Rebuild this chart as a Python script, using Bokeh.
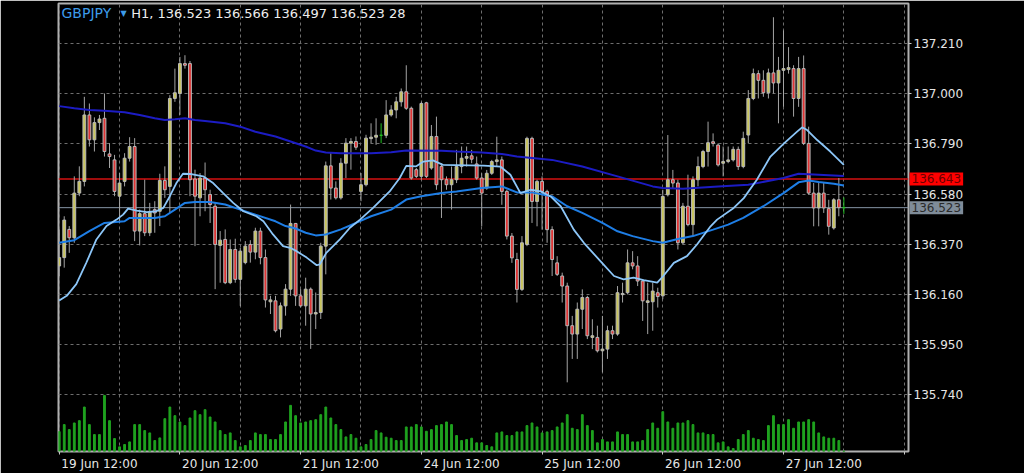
from bokeh.plotting import figure
from bokeh.models import (ColumnDataSource, Range1d, FixedTicker, Span, Label,
                          PrintfTickFormatter)
from bokeh.embed import file_html
from bokeh.resources import INLINE

# ---------------- data ----------------
symbol = "GBPJPY"
header = "H1, 136.523 136.566 136.497 136.523 28"

opens = [
136.279,136.314,136.432,136.397,136.584,136.633,136.911,136.807,136.879,136.897,
136.748,136.723,136.571,136.633,136.730,136.779,136.425,136.498,136.418,136.515,
136.508,136.637,136.612,136.980,137.001,137.126,137.126,136.643,136.564,136.647,
136.578,136.529,136.365,136.390,136.209,136.348,136.223,136.293,136.369,136.337,
136.425,136.314,136.129,136.133,136.015,136.112,136.182,136.457,136.154,136.112,
136.182,136.078,136.084,136.362,136.698,136.605,136.564,136.709,136.793,136.800,
136.591,136.619,136.812,136.818,136.826,136.826,136.911,136.932,136.966,137.008,
136.939,136.682,136.654,136.962,136.689,136.821,136.696,136.640,136.619,136.640,
136.695,136.730,136.740,136.706,136.647,136.605,136.667,136.716,136.723,136.591,
136.404,136.306,136.181,136.369,136.813,136.549,136.633,136.591,136.431,136.292,
136.237,136.195,136.029,135.994,136.098,136.147,135.980,135.980,135.924,135.931,
136.008,135.994,136.159,136.167,136.292,136.279,136.216,136.126,136.129,136.167,
136.154,136.577,136.640,136.626,136.376,136.529,136.452,136.640,136.695,136.758,
136.799,136.785,136.709,136.716,136.723,136.767,136.695,136.827,136.980,137.084,
137.056,137.004,137.087,137.045,137.098,137.101,137.105,136.980,137.105,136.792,
136.584,136.522,136.584,136.519,136.438,136.556,136.523]

highs = [
136.432,136.487,136.446,136.654,136.696,136.987,136.959,136.901,136.911,137.001,
136.793,136.744,136.668,136.751,136.818,136.814,136.515,136.640,136.543,136.550,
136.665,136.696,136.994,137.105,137.154,137.161,137.137,136.682,136.668,136.712,
136.598,136.543,136.425,136.432,136.390,136.393,136.355,136.383,136.387,136.439,
136.439,136.348,136.154,136.154,136.126,136.203,136.536,136.459,136.182,136.230,
136.189,136.168,136.376,136.716,136.751,136.633,136.730,136.814,136.814,136.821,
136.668,136.828,136.876,136.897,136.876,136.973,136.952,136.987,137.022,137.119,
136.946,136.689,136.966,136.966,136.869,136.904,136.709,136.654,136.695,136.765,
136.779,136.779,136.765,136.737,136.667,136.681,136.723,136.820,136.737,136.598,
136.417,136.334,136.404,136.820,136.820,136.640,136.654,136.598,136.445,136.320,
136.251,136.209,136.070,136.126,136.181,136.154,136.056,136.029,136.070,136.029,
136.029,136.195,136.209,136.348,136.341,136.320,136.223,136.209,136.209,136.188,
136.598,136.827,136.681,136.640,136.543,136.661,136.654,136.737,136.765,136.883,
136.834,136.792,136.779,136.779,136.779,136.779,136.841,137.015,137.105,137.098,
137.098,137.105,137.320,137.154,137.265,137.195,137.119,137.154,137.160,136.862,
136.626,136.626,136.626,136.556,136.563,136.647,136.566]

lows = [
136.237,136.272,136.334,136.376,136.571,136.612,136.779,136.758,136.848,136.737,
136.689,136.571,136.459,136.612,136.716,136.383,136.365,136.404,136.404,136.418,
136.446,136.564,136.501,136.966,136.911,137.105,136.571,136.362,136.487,136.508,
136.459,136.182,136.209,136.203,136.203,136.209,136.112,136.286,136.293,136.307,
136.286,136.105,136.078,136.001,135.980,136.071,136.154,136.112,136.105,136.029,
135.932,136.015,136.057,136.244,136.557,136.557,136.557,136.647,136.682,136.765,
136.550,136.612,136.793,136.786,136.793,136.814,136.904,136.897,136.946,136.932,
136.640,136.647,136.640,136.647,136.682,136.598,136.480,136.598,136.515,136.626,
136.667,136.695,136.709,136.640,136.445,136.598,136.660,136.695,136.535,136.390,
136.292,136.126,136.174,136.362,136.459,136.445,136.431,136.376,136.237,136.237,
136.126,135.792,135.890,135.890,136.015,135.973,135.931,135.917,135.834,135.890,
135.973,135.987,136.126,136.160,136.265,136.195,136.049,135.994,136.008,136.105,
136.140,136.570,136.605,136.348,136.369,136.445,136.404,136.612,136.688,136.695,
136.779,136.695,136.654,136.709,136.716,136.681,136.688,136.792,136.973,136.980,
136.987,136.980,137.001,136.876,136.945,137.084,136.904,136.945,136.785,136.577,
136.445,136.445,136.501,136.410,136.431,136.487,136.497]

closes = [
136.314,136.471,136.397,136.584,136.633,136.911,136.807,136.879,136.894,136.758,
136.737,136.591,136.626,136.730,136.779,136.425,136.498,136.418,136.504,136.501,
136.637,136.598,136.980,137.004,137.126,137.119,136.640,136.571,136.647,136.598,
136.536,136.369,136.387,136.209,136.348,136.223,136.341,136.362,136.337,136.425,
136.314,136.137,136.137,136.008,136.112,136.182,136.457,136.154,136.112,136.182,
136.078,136.084,136.362,136.698,136.605,136.564,136.709,136.793,136.800,136.776,
136.619,136.814,136.818,136.826,136.826,136.911,136.932,136.966,137.008,136.939,
136.647,136.654,136.959,136.654,136.821,136.619,136.640,136.619,136.640,136.695,
136.730,136.737,136.726,136.647,136.584,136.667,136.716,136.723,136.591,136.404,
136.313,136.181,136.376,136.813,136.549,136.633,136.591,136.431,136.306,136.244,
136.195,136.029,135.994,136.098,136.147,135.987,135.987,135.924,135.931,136.008,
135.994,136.167,136.164,136.292,136.279,136.216,136.133,136.133,136.174,136.151,
136.570,136.640,136.626,136.376,136.529,136.452,136.640,136.695,136.758,136.795,
136.792,136.702,136.716,136.723,136.767,136.695,136.813,136.980,137.084,137.056,
137.004,137.087,137.045,137.098,137.105,137.109,136.980,137.105,136.792,136.584,
136.522,136.584,136.522,136.445,136.556,136.523,136.523]

volumes = [
1200,1620,1320,1720,1860,2680,1620,1020,1020,3380,
1860,780,280,420,580,1620,1620,1260,1120,660,
820,1980,2680,2160,1780,1560,2020,2460,2220,2520,
2080,1780,1260,1020,1120,660,280,360,660,1120,
1020,1020,720,720,1020,1780,2780,2160,1720,1780,
1860,1920,2220,2680,2020,1620,1320,880,1020,800,
280,420,720,1260,1120,860,800,660,660,1480,
1480,1620,1480,1220,1320,1560,1620,1780,1620,960,
660,720,800,520,520,360,280,1120,1180,960,
960,1180,1180,1560,1720,1480,1120,1180,1260,1480,
1720,2220,1400,1320,2220,1560,1260,520,720,580,
580,1180,1020,1020,580,580,660,1320,1720,1400,
2400,1780,1400,1720,1720,1860,1620,1120,1120,1020,
1020,520,580,280,180,720,1020,1260,800,720,
660,1560,2160,1620,1620,1920,1400,1780,1780,1920,
1780,1120,880,800,800,660,28]

# moving averages (bar index, price)
slow_x = [0,3,6,9,13,16,19,21,23,25,27,29,33,36,39,43,46,49,51,53,56,62,66,69,76,79,
          84,88,91,98,104,111,118,120,124,131,137,144,147,151,156]
slow_y = [136.948,136.939,136.932,136.929,136.922,136.911,136.897,136.890,136.893,136.897,
          136.890,136.886,136.876,136.862,136.841,136.821,136.800,136.779,136.762,136.754,
          136.751,136.751,136.755,136.762,136.761,136.758,136.754,136.748,136.737,136.723,
          136.695,136.654,136.612,136.605,136.602,136.612,136.619,136.647,136.665,136.661,
          136.656]

mid_x = [0,3,6,9,13,14,19,21,23,25,27,30,33,36,39,43,45,47,49,51,53,56,59,62,66,69,72,
         76,79,84,88,91,94,98,101,104,108,111,114,118,120,123,126,130,133,136,140,144,
         147,149,151,154,156]
mid_y = [136.376,136.387,136.425,136.459,136.466,136.480,136.480,136.487,136.515,136.543,
         136.547,136.547,136.536,136.515,136.494,136.466,136.446,136.436,136.418,136.407,
         136.411,136.432,136.459,136.487,136.515,136.557,136.571,136.584,136.591,136.605,
         136.612,136.587,136.587,136.570,136.529,136.501,136.459,136.424,136.404,136.383,
         136.376,136.392,136.404,136.431,136.452,136.480,136.529,136.584,136.629,136.637,
         136.630,136.623,136.616]

fast_x = [0,1.5,3.4,5.4,7.4,9.4,11.4,12.7,13.7,15.4,17.4,19.3,20.7,22,23.3,24.6,26,28.6,
          30.6,32.6,34.6,36.6,39.2,40.6,42.5,44.5,45.9,47.2,49.2,51.2,51.8,53.1,55.8,57.8,
          59.8,62.4,65.7,67.7,69,71,72.4,74.3,76.3,78.8,84.4,87.7,89.7,91.7,93.7,95.7,97.7,
          99.7,102.3,104.3,107.6,110.3,112.2,114.2,116.2,118.9,120.1,122.2,124.8,126.8,
          129.5,130.8,134.1,136.1,138.7,141.4,144.1,146.7,147.7,148.7,150.7,153.3,156]
fast_y = [136.134,136.154,136.203,136.293,136.390,136.446,136.473,136.494,136.519,136.511,
          136.504,136.508,136.522,136.571,136.626,136.665,136.664,136.654,136.626,136.584,
          136.543,136.508,136.487,136.466,136.411,136.362,136.355,136.341,136.314,136.282,
          136.286,136.334,136.390,136.439,136.473,136.522,136.591,136.647,136.698,136.696,
          136.716,136.721,136.702,136.701,136.699,136.695,136.661,136.584,136.598,136.591,
          136.570,136.529,136.431,136.376,136.299,136.237,136.223,136.230,136.220,136.209,
          136.237,136.292,136.320,136.369,136.445,136.473,136.522,136.563,136.640,136.737,
          136.792,136.841,136.859,136.848,136.806,136.758,136.702]

day_labels = ["19 Jun 12:00", "20 Jun 12:00", "21 Jun 12:00", "24 Jun 12:00",
              "25 Jun 12:00", "26 Jun 12:00", "27 Jun 12:00"]
day_bars = [0, 24, 48, 72, 96, 120, 144]
price_ticks = [135.740, 135.950, 136.160, 136.370, 136.580, 136.790, 137.000, 137.210]
level_price = 136.643
bid_price = 136.523

# ---------------- build ----------------
n = min(len(opens), len(highs), len(lows), len(closes))
xs = list(range(n))
BULL, BEAR, DOJI = "#c9c55c", "#e03434", "#22c022"
body_col, line_col, wick_col, top, bot = [], [], [], [], []
for o, c in zip(opens[:n], closes[:n]):
    top.append(max(o, c))
    bot.append(min(o, c))
    if abs(c - o) < 0.0005:
        body_col.append(DOJI); line_col.append(DOJI); wick_col.append(DOJI)
    elif c > o:
        body_col.append(BULL); line_col.append("#b8b8b8"); wick_col.append("#a4a4a4")
    else:
        body_col.append(BEAR); line_col.append("#b8b8b8"); wick_col.append("#a4a4a4")

src = ColumnDataSource(dict(x=xs, high=highs[:n], low=lows[:n], top=top, bot=bot,
                            body=body_col, edge=line_col, wick=wick_col))
vsrc = ColumnDataSource(dict(x=list(range(len(volumes))), vol=volumes))

p = figure(width=1024, height=473, output_backend="svg", toolbar_location=None,
           x_range=Range1d(-0.14, 168.85), y_range=Range1d(135.5025, 137.3775),
           y_axis_location="right",
           background_fill_color="black", border_fill_color="black",
           min_border_left=58, min_border_right=116, min_border_top=3,
           min_border_bottom=20)
p.outline_line_color = "#b0b0b0"
p.outline_line_width = 2
p.extra_y_ranges = {"vol": Range1d(0, 27000)}

# grids
p.xgrid.ticker = FixedTicker(ticks=list(range(0, 169, 12)))
p.ygrid.ticker = FixedTicker(ticks=price_ticks)
for g in (p.xgrid, p.ygrid):
    g.grid_line_color = "#6e6e6e"
    g.grid_line_dash = "3 3"
    g.grid_line_width = 1

# right price axis
ya = p.yaxis[0]
ya.ticker = FixedTicker(ticks=price_ticks)
ya.formatter = PrintfTickFormatter(format="%.3f")
ya.axis_line_color = None
ya.major_tick_line_color = "#c8c8c8"
ya.major_tick_out = 3
ya.major_tick_in = 0
ya.minor_tick_line_color = None
ya.major_label_standoff = 2
ya.major_label_text_color = "#e6e6e6"
ya.major_label_text_font = "DejaVu Sans"
ya.major_label_text_font_size = "12px"

# bottom time axis: labels start at the day tick
xa = p.xaxis[0]
xa.ticker = FixedTicker(ticks=[b + 8 for b in day_bars],
                        minor_ticks=list(range(0, 169, 24)))
xa.major_label_overrides = {b + 8: lab for b, lab in zip(day_bars, day_labels)}
xa.axis_line_color = None
xa.major_tick_line_color = None
xa.major_tick_out = 3
xa.major_tick_in = 0
xa.minor_tick_line_color = "#c8c8c8"
xa.minor_tick_out = 3
xa.minor_tick_in = 0
xa.major_label_standoff = 2
xa.major_label_text_color = "#e6e6e6"
xa.major_label_text_font = "DejaVu Sans"
xa.major_label_text_font_size = "12px"

# horizontal level lines
p.add_layout(Span(location=level_price, dimension="width", line_color="#d41010",
                  line_width=1.5, level="underlay"))
p.add_layout(Span(location=bid_price, dimension="width", line_color="#8595a5",
                  line_width=1, level="underlay"))

# volume
p.vbar(x="x", top="vol", bottom=0, width=0.36, color="#1fa21f",
       y_range_name="vol", source=vsrc)

# candles
p.segment(x0="x", y0="low", x1="x", y1="high", line_color="wick", line_width=1,
          source=src)
p.vbar(x="x", top="top", bottom="bot", width=0.56, fill_color="body",
       line_color="edge", line_width=1, source=src)

# moving averages
p.line(slow_x, slow_y, line_color="#1c1cc4", line_width=2)
p.line(mid_x, mid_y, line_color="#1e7ee6", line_width=2)
p.line(fast_x, fast_y, line_color="#8cc6f8", line_width=1.8)

# price tags on the right; kept in side panels so they are not clipped by the frame
# (one in each side panel so the frame keeps its width)
p.add_layout(Label(x=169.05, y=level_price, text=f"{level_price:.3f}",
                   text_align="left", text_baseline="middle",
                   text_color="#6a0000", text_font="DejaVu Sans",
                   text_font_size="12px", background_fill_color="#ff0000",
                   padding=2), "right")
p.add_layout(Label(x=169.05, y=bid_price, text=f"{bid_price:.3f}",
                   text_align="left", text_baseline="middle",
                   text_color="#2a2a2a", text_font="DejaVu Sans",
                   text_font_size="12px", background_fill_color="#7f8c99",
                   padding=2), "left")

# header text
p.add_layout(Label(x=0.46, y=137.336, text=symbol, text_align="left",
                   text_baseline="middle", text_color="#3d9be9",
                   text_font="DejaVu Sans", text_font_size="14px"))
p.add_layout(Label(x=12.2, y=137.336, text="\u25bc", text_align="left",
                   text_baseline="middle", text_color="#3d9be9",
                   text_font="DejaVu Sans", text_font_size="8px"))
p.add_layout(Label(x=14.3, y=137.336, text=header, text_align="left",
                   text_baseline="middle", text_color="#eeeeee",
                   text_font="DejaVu Sans", text_font_size="13px"))

open("out.html", "w").write(file_html(p, INLINE))
